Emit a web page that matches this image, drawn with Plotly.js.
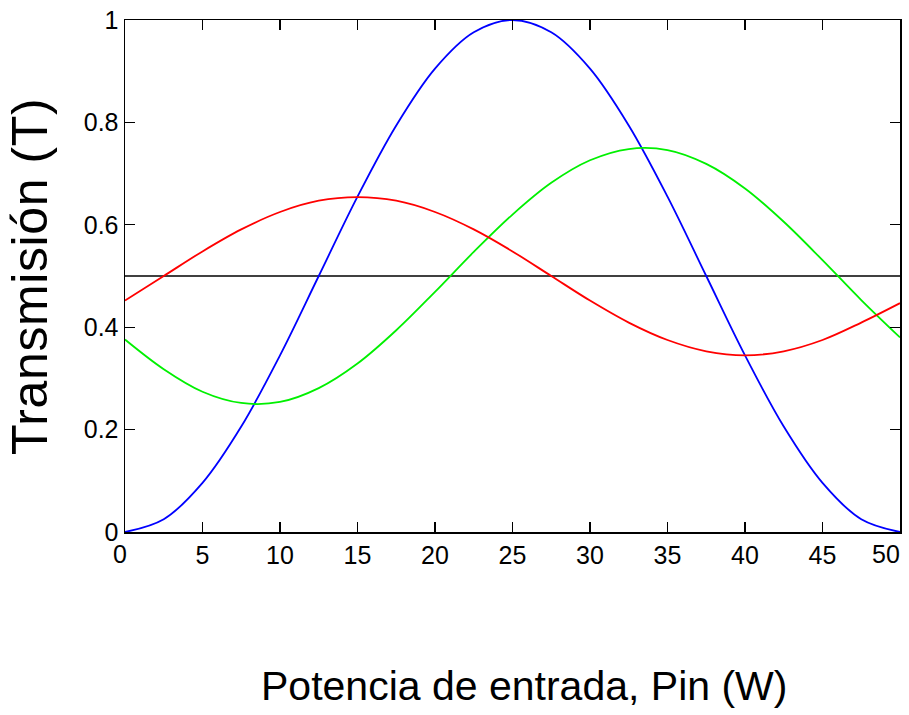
<!DOCTYPE html>
<html>
<head>
<meta charset="utf-8">
<script src="https://cdn.plot.ly/plotly-3.0.1.min.js"></script>
<style>html,body{margin:0;padding:0;background:#fff;}#chart{width:909px;height:715px;}</style>
</head>
<body>
<div id="chart"></div>
<script>
// Input power, Pin (W)
const pin = [0, 2.5, 5, 7.5, 10, 12.5, 15, 17.5, 20, 22.5, 25, 27.5, 30, 32.5, 35, 37.5, 40, 42.5, 45, 47.5, 50];
// Transmission curves
const blueT  = [0.000, 0.025, 0.096, 0.206, 0.345, 0.500, 0.655, 0.794, 0.905, 0.976, 1.000, 0.976, 0.905, 0.794, 0.655, 0.500, 0.345, 0.206, 0.096, 0.025, 0.000];
const redT   = [0.452, 0.500, 0.548, 0.591, 0.625, 0.647, 0.654, 0.647, 0.625, 0.591, 0.548, 0.500, 0.452, 0.409, 0.375, 0.353, 0.345, 0.353, 0.375, 0.409, 0.447];
const greenT = [0.376, 0.318, 0.274, 0.252, 0.254, 0.281, 0.329, 0.394, 0.469, 0.547, 0.620, 0.682, 0.726, 0.748, 0.746, 0.719, 0.671, 0.606, 0.531, 0.453, 0.380];
const refX = [0, 50];
const refT = [0.5, 0.5];
const xTicks = [0, 5, 10, 15, 20, 25, 30, 35, 40, 45, 50];
const xTickText = ['', '5', '10', '15', '20', '25', '30', '35', '40', '45', ''];
const xEndLabels = [{v: 0, t: '0', shift: -5}, {v: 50, t: '50', shift: -14}];
const yTicks = [0, 0.2, 0.4, 0.6, 0.8, 1];
const yTickText = ['0', '0.2', '0.4', '0.6', '0.8', '1'];
const xTitle = 'Potencia de entrada, Pin (W)';
const yTitle = 'Transmisión (T)';

const FONT = '"Liberation Sans Narrow", "Liberation Sans", Arial, sans-serif';
const TICKSIZE = 25;

const traces = [
  {x: refX, y: refT, mode: 'lines', line: {color: '#000000', width: 1.5}, hoverinfo: 'skip'},
  {x: pin, y: blueT, mode: 'lines', line: {color: '#0000ff', width: 1.8, shape: 'spline', smoothing: 1}},
  {x: pin, y: greenT, mode: 'lines', line: {color: '#00f000', width: 1.8, shape: 'spline', smoothing: 1}},
  {x: pin, y: redT, mode: 'lines', line: {color: '#ff0000', width: 1.8, shape: 'spline', smoothing: 1}}
];

const annotations = xEndLabels.map(function (d) {
  return {x: d.v, xref: 'x', y: 0, yref: 'paper', yshift: -7, xshift: d.shift, borderpad: 0,
          text: d.t, showarrow: false, xanchor: 'center', yanchor: 'top',
          font: {family: FONT, size: TICKSIZE, color: '#000'}};
});
annotations.push({
  x: 0.515, xref: 'paper', y: -0.3008, yref: 'paper', xanchor: 'center', yanchor: 'middle',
  text: xTitle, showarrow: false,
  font: {family: FONT, size: 41, color: '#000'}
});
annotations.push({
  x: -0.122, xref: 'paper', y: 0.5, yref: 'paper', xanchor: 'center', yanchor: 'middle',
  text: yTitle, showarrow: false, textangle: -90,
  font: {family: FONT, size: 50, color: '#000'}
});

const layout = {
  width: 909, height: 715,
  margin: {l: 125, r: 9, t: 20, b: 183},
  paper_bgcolor: '#ffffff', plot_bgcolor: '#ffffff',
  showlegend: false,
  font: {family: FONT, color: '#000000'},
  annotations: annotations,
  xaxis: {
    range: [0, 50], tickvals: xTicks, ticktext: xTickText,
    ticks: 'inside', ticklen: 10, tickwidth: 1.2, tickcolor: '#000',
    showline: true, linecolor: '#000', linewidth: 1.5, mirror: 'ticks',
    showgrid: false, zeroline: false,
    tickfont: {family: FONT, size: TICKSIZE, color: '#000'}
  },
  yaxis: {
    range: [0, 1], tickvals: yTicks, ticktext: yTickText,
    ticks: 'inside', ticklen: 10, tickwidth: 1.2, tickcolor: '#000',
    showline: true, linecolor: '#000', linewidth: 1.5, mirror: 'ticks',
    showgrid: false, zeroline: false, ticklabeloverflow: 'allow',
    tickfont: {family: FONT, size: TICKSIZE, color: '#000'}
  }
};

Plotly.newPlot('chart', traces, layout, {displayModeBar: false, staticPlot: true}).then(function () {
  document.querySelectorAll('.annotation-text').forEach(function (el) {
    if (el.textContent === yTitle) el.style.letterSpacing = '0.6px';
  });
});
</script>
</body>
</html>
